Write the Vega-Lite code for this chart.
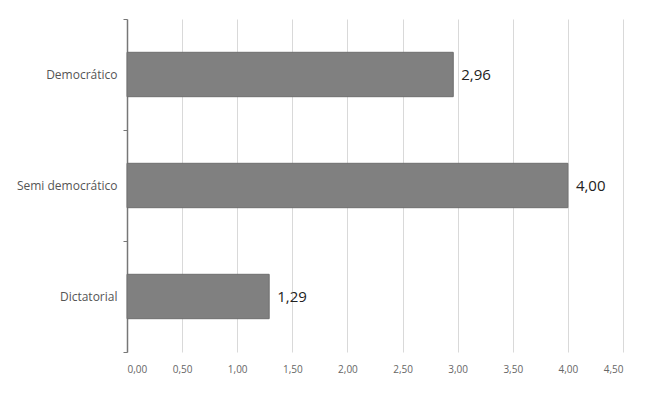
{
  "$schema": "https://vega.github.io/schema/vega-lite/v6.json",
  "width": 496,
  "height": 333,
  "autosize": "none",
  "padding": {"left": 127, "top": 19, "right": 27, "bottom": 41},
  "background": "white",
  "config": {
    "locale": {"number": {"decimal": ",", "thousands": ".", "grouping": [3], "currency": ["", " €"]}},
    "view": {"stroke": null},
    "font": "Open Sans"
  },
  "data": {
    "values": [
      {"regimen": "Democrático", "valor": 2.96},
      {"regimen": "Semi democrático", "valor": 4.00},
      {"regimen": "Dictatorial", "valor": 1.29}
    ]
  },
  "encoding": {
    "y": {
      "field": "regimen", "type": "nominal", "sort": null,
      "scale": {"paddingInner": 0, "paddingOuter": 0},
      "axis": {
        "title": null, "domainColor": "#777777", "domainWidth": 1.5,
        "tickColor": "#777777", "tickSize": 4, "tickBand": "extent",
        "labelFontSize": 12, "labelColor": "#555555", "labelPadding": 6,
        "grid": false
      }
    },
    "x": {
      "field": "valor", "type": "quantitative",
      "scale": {"domain": [0, 4.5], "nice": false},
      "axis": {
        "title": null, "values": [0, 0.5, 1, 1.5, 2, 2.5, 3, 3.5, 4, 4.5],
        "format": ".2f", "domain": false, "ticks": false,
        "grid": true, "gridColor": "#d9d9d9", "gridWidth": 1,
        "labelFontSize": 10, "labelColor": "#666666", "labelPadding": 12
      }
    }
  },
  "layer": [
    {"mark": {"type": "bar", "color": "#808080", "stroke": "#6e6e6e", "strokeWidth": 1, "height": {"band": 0.4}}},
    {
      "mark": {"type": "text", "align": "left", "baseline": "middle", "dx": 8, "fontSize": 15, "color": "#222222"},
      "encoding": {"text": {"field": "valor", "type": "quantitative", "format": ".2f"}}
    }
  ]
}
